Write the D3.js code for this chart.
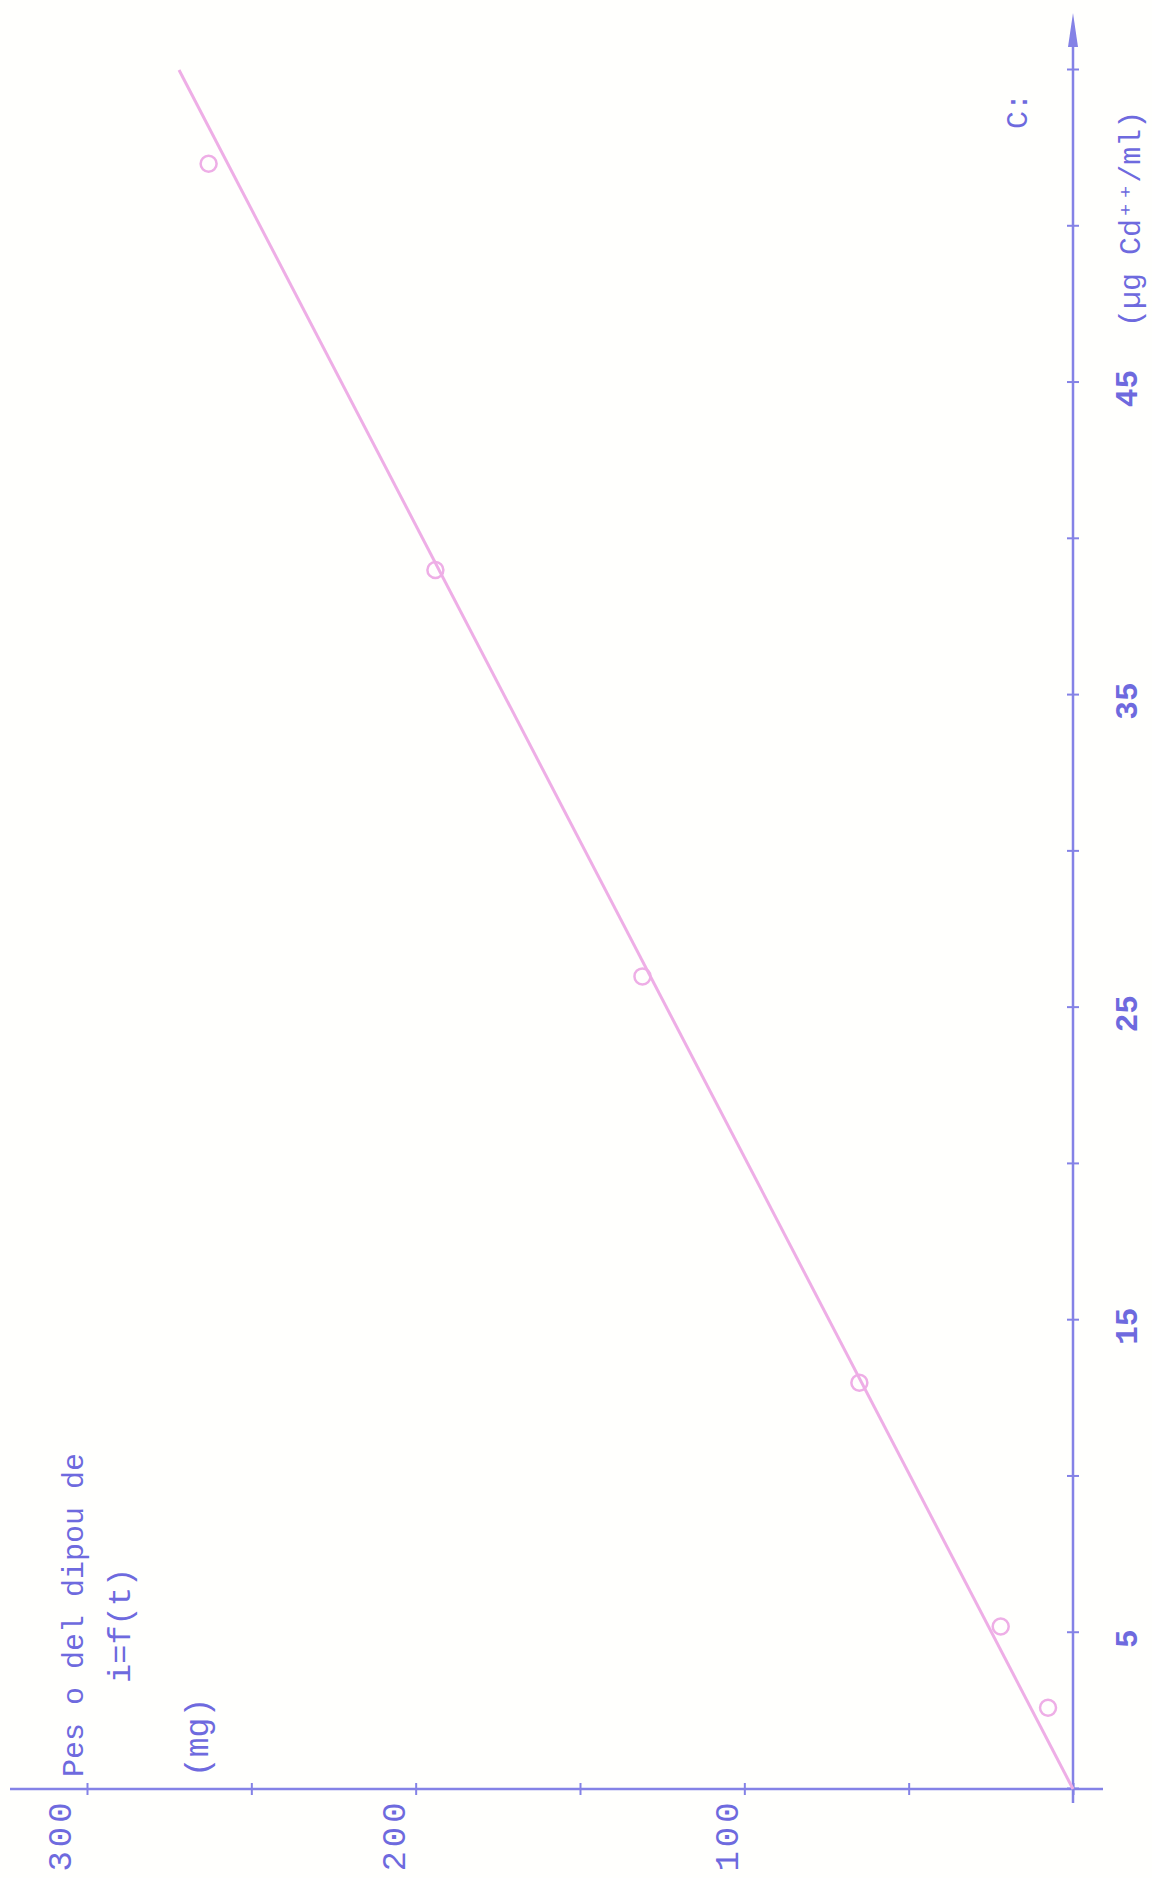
<!DOCTYPE html>
<html>
<head>
<meta charset="utf-8">
<script src="https://cdn.jsdelivr.net/npm/d3@7"></script>
<style>
	body { margin: 0; background: #fffffd; }
	svg { display: block; }
</style>
</head>
<body>
<script>
// pes del diposit (mg) en funcio de la concentracio (ug Cd++/ml)
// the sheet is typed sideways, so the whole plot sits in a group rotated -90

var concentration = [2.6, 5.2, 13, 26, 39, 52];
var weight        = [7.6, 22, 65, 131, 194, 263];

var fitConc   = [0, 55];
var fitWeight = [0, 272];

var concTicks    = [0, 5, 10, 15, 20, 25, 30, 35, 40, 45, 50, 55];
var concLabels   = ["5", "15", "25", "35", "45"];
var weightTicks  = [0, 50, 100, 150, 200, 250, 300];
var weightLabels = ["100", "200", "300"];

var axisColor = "#8482e6";
var textColor = "#6e6ade";
var pink      = "#eeaee6";
var font      = "'Liberation Mono', 'DejaVu Sans Mono', monospace";

var width = 1152, height = 1878;

var svg = d3.select("body").append("svg")
	.attr("width", width)
	.attr("height", height);

// inner (x, y) -> screen (87 + y, 1789 - x)
var g = svg.append("g")
	.attr("transform", "translate(87,1789) rotate(-90)");

var x = d3.scaleLinear().domain([0, 55]).range([0, 1719]);
var y = d3.scaleLinear().domain([0, 300]).range([986, 0]);

// concentration axis (vertical on screen, right side)
var xAxis = g.append("g")
	.attr("transform", "translate(0," + y(0) + ")")
	.call(d3.axisBottom(x).tickValues(concTicks).tickSize(0).tickFormat(""));
xAxis.select(".domain").remove();
xAxis.selectAll(".tick line")
	.attr("y1", -6).attr("y2", 6)
	.attr("stroke", axisColor).attr("stroke-width", 2);

xAxis.append("line")
	.attr("x1", -14).attr("x2", 1750)
	.attr("y1", 0).attr("y2", 0)
	.attr("stroke", axisColor).attr("stroke-width", 2.5);
xAxis.append("path")
	.attr("d", "M1742,-5L1776,0L1742,5Z")
	.attr("fill", axisColor);

// weight axis (horizontal on screen, bottom)
var yAxis = g.append("g")
	.call(d3.axisLeft(y).tickValues(weightTicks).tickSize(0).tickFormat(""));
yAxis.select(".domain").remove();
yAxis.selectAll(".tick line")
	.attr("x1", -6).attr("x2", 6)
	.attr("stroke", axisColor).attr("stroke-width", 2);

yAxis.append("line")
	.attr("x1", 0).attr("x2", 0)
	.attr("y1", -77).attr("y2", y(0) + 30)
	.attr("stroke", axisColor).attr("stroke-width", 2.5);

// tick labels
g.selectAll(".clabel")
	.data(concLabels)
	.join("text")
	.attr("class", "clabel")
	.attr("x", function(d) { return x(+d) - 6; })
	.attr("y", y(0) + 64)
	.attr("text-anchor", "middle")
	.style("font-family", font)
	.style("font-size", "31px")
	.style("font-weight", "bold")
	.style("fill", textColor)
	.text(function(d) { return d; });

g.selectAll(".wlabel")
	.data(weightLabels)
	.join("text")
	.attr("class", "wlabel")
	.attr("x", -46)
	.attr("y", function(d) { return y(+d) - 10 - (+d) / 20; })
	.attr("dominant-baseline", "central")
	.attr("text-anchor", "middle")
	.style("font-family", font)
	.style("font-size", "34px")
	.style("letter-spacing", "4px")
	.style("fill", textColor)
	.text(function(d) { return d; });

// titles
function typed(tx, ty, str, size) {
	g.append("text")
		.attr("x", tx)
		.attr("y", ty)
		.style("font-family", font)
		.style("font-size", size + "px")
		.style("fill", textColor)
		.text(str);
}

typed(12, -4, "Pes o del dipou de", 30);
typed(106, 43, "i=f(t)", 32);
typed(12, 121, "(mg)", 33);
typed(1462, 1053, "(\u00b5g Cd\u207a\u207a/ml)", 30);
typed(1660, 940, "C:", 30);

// fitted line
var fit = fitConc.map(function(c, i) { return {c: c, w: fitWeight[i]}; });

g.append("path")
	.datum(fit)
	.attr("fill", "none")
	.attr("stroke", pink)
	.attr("stroke-width", 3)
	.attr("d", d3.line()
		.x(function(d) { return x(d.c); })
		.y(function(d) { return y(d.w); }));

// measured points
var pts = concentration.map(function(c, i) { return {c: c, w: weight[i]}; });

g.selectAll(".pt")
	.data(pts)
	.join("circle")
	.attr("class", "pt")
	.attr("cx", function(d) { return x(d.c); })
	.attr("cy", function(d) { return y(d.w); })
	.attr("r", 8)
	.attr("fill", "none")
	.attr("stroke", pink)
	.attr("stroke-width", 2.5);
</script>
</body>
</html>
